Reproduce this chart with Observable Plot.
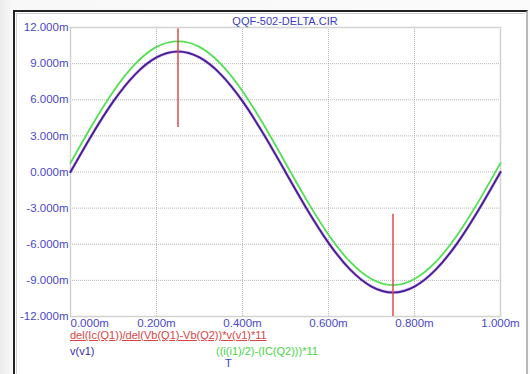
<!DOCTYPE html>
<html>
<head>
<meta charset="utf-8">
<script src="https://cdn.jsdelivr.net/npm/d3@7"></script>
<script src="https://cdn.jsdelivr.net/npm/@observablehq/plot@0.6"></script>
<style>
  html, body { margin: 0; padding: 0; }
  body { width: 530px; height: 374px; overflow: hidden; position: relative;
         background: linear-gradient(90deg, #ececec 0px, #f8f8f8 12px, #fbfbfb 100%);
         font-family: "Liberation Sans", Arial, sans-serif; }
  #win { position: absolute; left: 13px; top: 10px; width: 511px; height: 370px;
         background: #fff; border-left: 2px solid #222; border-top: 2px solid #222;
         border-right: 2px solid #b8b8b8; }
  #inner { position: absolute; left: 16px; top: 13px; width: 508px; height: 370px;
           border-left: 1px solid #cfcfcf; border-top: 1px solid #cfcfcf; }
  #chart { position: absolute; left: 0; top: 0; }
  .t { position: absolute; font-size: 11px; white-space: nowrap; line-height: 1; }
  #title { left: 285px; top: 16px; transform: translateX(-50%); color: #3c3cc0; font-size: 11px; }
</style>
</head>
<body>
<div id="win"></div>
<div id="inner"></div>
<div id="chart"></div>
<div class="t" id="title">QQF-502-DELTA.CIR</div>
<div class="t" id="leg1" style="left:70px; top:330px; color:#d84545; text-decoration: underline;">del(Ic(Q1))/del(Vb(Q1)-Vb(Q2))*v(v1)*11</div>
<div class="t" id="leg2" style="left:70px; top:346px; color:#3a2aa8;">v(v1)</div>
<div class="t" id="leg3" style="left:216px; top:346px; color:#45d445;">((i(i1)/2)-(IC(Q2)))*11</div>
<div class="t" id="leg4" style="left:225px; top:358px; color:#4040c0;">T</div>
<script>
// time axis (ms), read at 0.05m steps
const t = [0.00, 0.05, 0.10, 0.15, 0.20, 0.25, 0.30, 0.35, 0.40, 0.45, 0.50,
           0.55, 0.60, 0.65, 0.70, 0.75, 0.80, 0.85, 0.90, 0.95, 1.00];
// v(v1) in m-units
const vv1 = [0.00, 3.09, 5.88, 8.09, 9.51, 10.00, 9.51, 8.09, 5.88, 3.09, 0.00,
             -3.09, -5.88, -8.09, -9.51, -10.00, -9.51, -8.09, -5.88, -3.09, 0.00];
// ((i(i1)/2)-(IC(Q2)))*11
const ic = [0.75, 3.88, 6.71, 8.95, 10.39, 10.85, 10.39, 8.95, 6.71, 3.88, 0.75,
            -2.38, -5.21, -7.45, -8.89, -9.40, -8.89, -7.45, -5.21, -2.38, 0.75];
// cursors
const cursorT = [0.25, 0.75];
const cursorTop = [11.9, -3.5];
const cursorBottom = [3.7, -12.0];
// ticks
const xTicks = [0, 0.2, 0.4, 0.6, 0.8, 1.0];
const yTicks = [-12, -9, -6, -3, 0, 3, 6, 9, 12];

const lineData = t.map((d, i) => ({t: d, v: vv1[i], g: ic[i]}));
const cursors = cursorT.map((d, i) => ({t: d, y1: cursorBottom[i], y2: cursorTop[i]}));
const fmt = d => d.toFixed(3) + "m";
const blue = "#4848cc";

const chart = Plot.plot({
  width: 530, height: 332,
  marginLeft: 70, marginRight: 30, marginTop: 27, marginBottom: 16,
  x: {domain: [0, 1]},
  y: {domain: [-12, 12]},
  style: {fontFamily: '"Liberation Sans", Arial, sans-serif', fontSize: "11.5px",
          background: "transparent", overflow: "visible"},
  marks: [
    Plot.gridX(xTicks.slice(1, -1), {stroke: "#9a9a9a", strokeOpacity: 0.7, strokeDasharray: "1,1"}),
    Plot.gridY(yTicks.slice(1, -1), {stroke: "#9a9a9a", strokeOpacity: 0.7, strokeDasharray: "1,1"}),
    Plot.frame({stroke: "#d2d2d2", strokeWidth: 1.5}),
    Plot.axisY(yTicks, {tickSize: 0, tickPadding: 2, tickFormat: fmt, fill: blue, label: null}),
    Plot.axisX(xTicks.slice(0, 1), {tickSize: 0, tickPadding: 2, tickFormat: fmt, fill: blue, textAnchor: "start", label: null}),
    Plot.axisX(xTicks.slice(1), {tickSize: 0, tickPadding: 2, tickFormat: fmt, fill: blue, label: null}),
    Plot.line(lineData, {x: "t", y: "g", stroke: "#52e052", strokeWidth: 1.8, curve: "natural"}),
    Plot.line(lineData, {x: "t", y: "v", stroke: "#b070d0", strokeWidth: 3.2, strokeOpacity: 0.35, curve: "natural"}),
    Plot.line(lineData, {x: "t", y: "v", stroke: "#4a1e9a", strokeWidth: 2, curve: "natural"}),
    Plot.ruleX(cursors, {x: "t", y1: "y1", y2: "y2", stroke: "#e04a4a", strokeWidth: 1.5})
  ]
});
document.getElementById("chart").appendChild(chart);
</script>
</body>
</html>
